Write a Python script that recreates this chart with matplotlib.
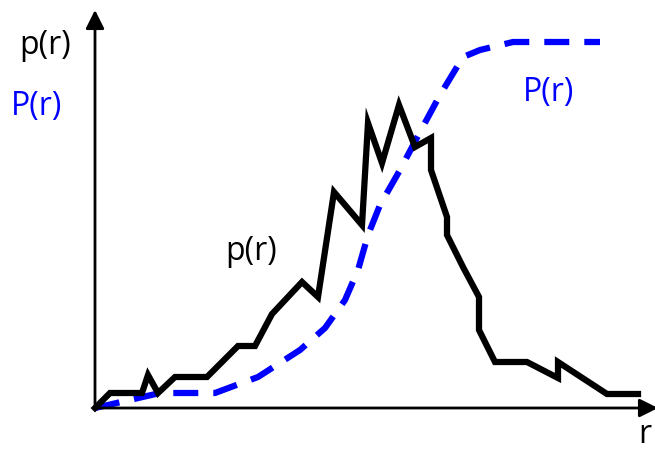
import numpy as np
import matplotlib.pyplot as plt

plt.rcParams['font.family'] = ['Open Sans', 'DejaVu Sans']

# p(r): density curve (x = r, y = height above axis)
p_r = [0, 15, 47, 53, 63, 80, 112, 143, 160, 177, 207, 223, 239, 267, 273, 287,
       304, 320, 336, 336, 352, 352, 368, 384, 384, 400, 432, 463, 463, 512, 543]
p_val = [0, 15, 15, 33, 15, 31, 31, 62, 62, 94, 126, 111, 216, 183, 285, 245,
         303, 261, 270, 238, 191, 173, 141, 111, 78, 46, 46, 30, 46, 14, 14]

# P(r): cumulative curve
c_r = [0, 65, 120, 163, 205, 230, 250, 263, 273, 285, 305, 325, 345, 368, 385, 418, 505]
c_val = [0, 15, 15, 31, 58, 80, 108, 138, 173, 203, 238, 276, 313, 351, 358, 366, 366]

fig = plt.figure(figsize=(6.55, 4.53), dpi=100)
ax = fig.add_axes([0, 0, 1, 1])
ax.set_xlim(-95, 560)
ax.set_ylim(-45, 408)
ax.axis('off')

# axes with arrows
arr = dict(arrowstyle='-|>', lw=2, color='black', mutation_scale=28, shrinkA=0, shrinkB=0)
ax.annotate('', xy=(0, 398), xytext=(0, -1.5), arrowprops=arr, annotation_clip=False)
ax.annotate('', xy=(563, 0), xytext=(-1.5, 0), arrowprops=arr, annotation_clip=False)

ax.plot(c_r, c_val, color='#0000ff', lw=4.5, dashes=(4, 2.4), dash_capstyle='butt')
ax.plot(p_r, p_val, color='black', lw=4.5, solid_joinstyle='miter')

fs = 23
ax.text(-50, 363, 'p(r)', fontsize=fs, color='black', ha='center', va='center')
ax.text(-58, 302, 'P(r)', fontsize=fs, color='#0000ff', ha='center', va='center')
ax.text(156, 156, 'p(r)', fontsize=fs, color='black', ha='center', va='center')
ax.text(454, 316, 'P(r)', fontsize=fs, color='#0000ff', ha='center', va='center')
ax.text(550, -43, 'r', fontsize=fs, color='black', ha='center', va='bottom')

plt.savefig('out.png', dpi=100)
